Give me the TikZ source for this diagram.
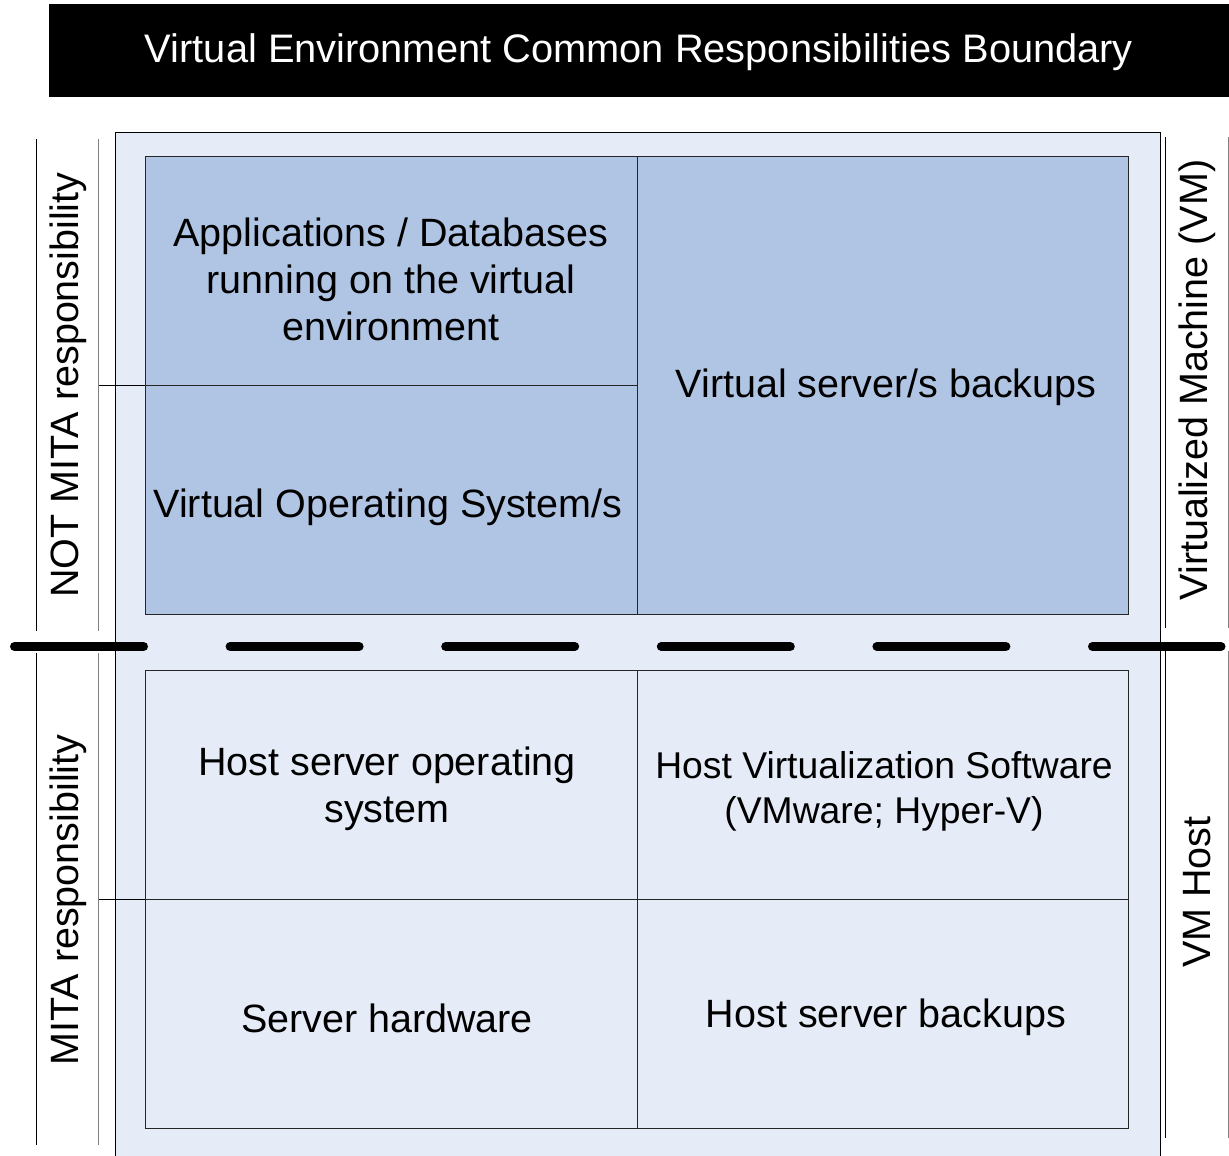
\documentclass[tikz,border=0pt]{standalone}
\usepackage{fontspec}
\setmainfont{Liberation Sans}
\definecolor{boxlight}{HTML}{E6ECF7}
\definecolor{boxmid}{HTML}{B0C4E4}
\definecolor{edgegray}{HTML}{808080}
\begin{document}
\begin{tikzpicture}[x=1pt,y=-1pt,
  cellU/.style={draw=black!85, line width=1pt, fill=boxmid, inner sep=0pt, outer sep=0pt, align=center},
  cellL/.style={draw=black!85, line width=1pt, fill=boxlight, inner sep=0pt, outer sep=0pt, align=center},
  txt/.style={font=\fontsize{39.5}{47}\selectfont, align=center, inner sep=0pt},
  sidetxt/.style={font=\fontsize{39.5}{47}\selectfont, rotate=90, inner sep=0pt},
  sideline/.style={line width=1pt}]
\useasboundingbox (0,0) rectangle (1229,1156);
\clip (0,0) rectangle (1229,1156);
% title
\node[fill=black, minimum width=1180pt, minimum height=93pt, inner sep=0pt] (titlebar) at (639,50.5) {};
\node[text=white, inner sep=0pt, font=\fontsize{39.8}{47}\selectfont] (title) at (639,52.5) {Virtual Environment Common Responsibilities Boundary};
% outer box
\node[draw=black, line width=1pt, fill=boxlight, minimum width=1045pt, minimum height=1040pt, inner sep=0pt, anchor=north west] (outer) at (114.5,132) {};
% side lines
\coordinate (l1t) at (36.5,139); \coordinate (l1b) at (36.5,631);
\coordinate (l2t) at (98.5,139); \coordinate (l2b) at (98.5,631);
\coordinate (l3t) at (36.5,653); \coordinate (l3b) at (36.5,1145);
\coordinate (l4t) at (98.5,653); \coordinate (l4b) at (98.5,1145);
\coordinate (r1t) at (1165,137); \coordinate (r1b) at (1165,628);
\coordinate (r2t) at (1228,137); \coordinate (r2b) at (1228,628);
\coordinate (r3t) at (1165,651); \coordinate (r3b) at (1165,1138);
\coordinate (r4t) at (1228,651); \coordinate (r4b) at (1228,1138);
\draw[sideline] (l1t) -- (l1b); \draw[sideline, edgegray] (l2t) -- (l2b);
\draw[sideline] (l3t) -- (l3b); \draw[sideline, edgegray] (l4t) -- (l4b);
\draw[sideline] (r1t) -- (r1b); \draw[sideline, edgegray] (r2t) -- (r2b);
\draw[sideline] (r3t) -- (r3b); \draw[sideline, edgegray] (r4t) -- (r4b);
% upper cells
\node[cellU, minimum width=492pt, minimum height=229pt] (apps) at (391,270.5) {};
\node[cellU, minimum width=492pt, minimum height=229pt] (vos) at (391,499.5) {};
\node[cellU, minimum width=491pt, minimum height=458pt] (vbk) at (882.5,385) {};
% lower cells
\node[cellL, minimum width=492pt, minimum height=229pt] (hos) at (391,784.5) {};
\node[cellL, minimum width=491pt, minimum height=229pt] (hvs) at (882.5,784.5) {};
\node[cellL, minimum width=492pt, minimum height=229pt] (shw) at (391,1013.5) {};
\node[cellL, minimum width=491pt, minimum height=229pt] (hbk) at (882.5,1013.5) {};
% left connecting lines
\coordinate (h1) at (99,385); \coordinate (h2) at (99,899);
\draw[sideline] (h1) -- (apps.south west);
\draw[sideline] (h2) -- (shw.north west);
% texts
\node[txt] (tapps) at (391,279) {Applications / Databases\\running on the virtual\\environment};
\node[txt] (tvos) at (388,507) {Virtual Operating System/s};
\node[txt] (tvbk) at (886,387) {Virtual server/s backups};
\node[txt] (thos) at (387,789) {Host server operating\\system};
\node[txt, font=\fontsize{37.3}{45}\selectfont] (thvs) at (884,791) {Host Virtualization Software\\(VMware; Hyper-V)};
\node[txt] (tshw) at (387,1018) {Server hardware};
\node[txt] (thbk) at (886,1017) {Host server backups};
% side labels
\node[sidetxt] (notmita) at (68,385) {NOT MITA responsibility};
\node[sidetxt] (mita) at (68,900) {MITA responsibility};
\node[sidetxt] (vm) at (1197,380) {Virtualized Machine (VM)};
\node[sidetxt] (vmhost) at (1197,892) {VM Host};
% dashed boundary
\coordinate (dA) at (14.5,646.5); \coordinate (dB) at (1221,646.5);
\draw[line width=9pt, line cap=round, dash pattern=on 129pt off 86.6pt] (dA) -- (dB);
\end{tikzpicture}
\end{document}
